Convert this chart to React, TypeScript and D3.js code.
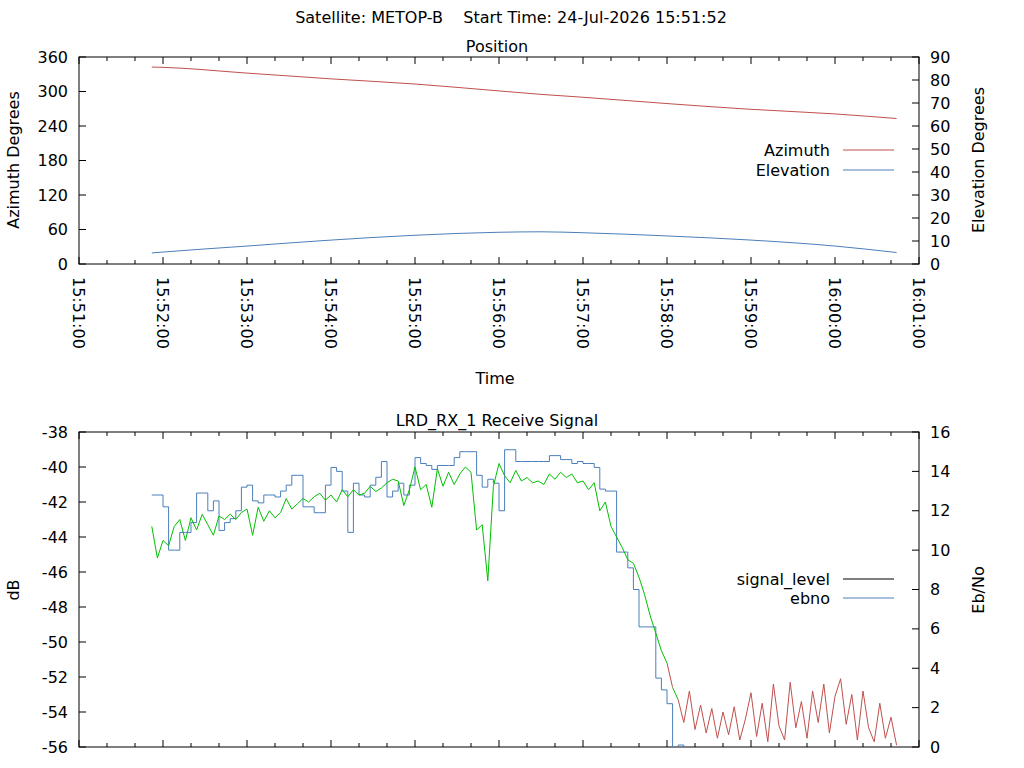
import React from 'react';
import * as d3 from 'd3';

// position samples: seconds after 15:51:00
const posTimes = [52, 60, 120, 180, 240, 300, 330, 360, 420, 480, 540, 584];
const azimuth = [342.5, 342, 332, 322, 313, 301, 295, 290, 279, 269, 261, 253];
const elevation = [4.8, 5.2, 7.8, 10.4, 12.5, 13.8, 14.0, 13.6, 12.2, 10.4, 7.8, 5.0];

// receive signal samples every 4 s starting 15:51:52
const sigStart = 52;
const sigStep = 4;
const signalLevel = [
  -43.4, -45.2, -44.2, -44.5, -43.4, -43.0, -44.2, -42.9, -43.6, -42.7,
  -43.3, -43.9, -42.8, -43.0, -42.7, -43.0, -42.6, -42.4, -43.9, -42.3,
  -43.1, -42.5, -42.9, -42.6, -41.8, -42.4, -42.1, -41.8, -42.0, -41.7,
  -41.5, -41.9, -41.6, -42.0, -41.3, -41.7, -41.3, -41.6, -41.5, -41.1,
  -41.4, -41.2, -40.9, -40.7, -40.8, -42.2, -41.3, -40.0, -41.3, -41.0,
  -42.3, -40.1, -41.1, -40.3, -41.0, -40.4, -40.0, -40.3, -43.6, -43.3,
  -46.5, -41.1, -39.8, -40.5, -40.9, -40.2, -40.8, -40.6, -40.9, -40.8,
  -41.0, -40.4, -40.7, -40.3, -40.6, -40.4, -40.9, -40.8, -41.3, -40.9,
  -42.5, -42.0, -43.4, -44.0, -44.6, -45.3, -45.5, -46.3, -47.3, -48.5,
  -49.5, -50.5, -51.2, -52.6, -53.3, -54.6, -52.8, -55.0, -53.6, -55.2,
  -53.8, -55.5, -54.0, -55.3, -53.7, -55.6, -54.4, -52.9, -55.4, -53.5,
  -55.7, -52.4, -54.8, -55.6, -52.3, -54.9, -53.4, -55.5, -52.8, -54.6,
  -52.4, -55.2, -53.1, -52.1, -54.7, -53.0, -55.6, -52.8, -54.9, -55.7,
  -53.5, -55.5, -54.3, -55.9,
];
const ebno = [
  12.8, 12.8, 12.2, 10.0, 10.0, 10.9, 10.9, 11.4, 12.9, 12.9,
  12.0, 12.5, 11.0, 11.4, 11.6, 12.0, 13.2, 13.3, 12.5, 12.4,
  12.8, 12.8, 12.7, 13.0, 13.3, 13.8, 13.8, 12.2, 12.2, 11.9,
  11.9, 13.3, 14.2, 14.0, 13.0, 10.9, 13.4, 12.8, 12.7, 13.3,
  13.7, 14.5, 12.7, 13.0, 13.4, 12.8, 13.3, 14.7, 14.4, 14.3,
  14.1, 14.3, 14.3, 14.3, 14.7, 15.0, 15.0, 15.0, 13.8, 13.2,
  13.6, 13.4, 12.0, 15.1, 15.1, 14.5, 14.5, 14.5, 14.5, 14.5,
  14.5, 14.8, 14.8, 14.6, 14.6, 14.4, 14.5, 14.4, 14.4, 14.2,
  13.1, 13.0, 13.0, 9.9, 9.9, 9.1, 8.0, 6.1, 6.1, 6.1,
  3.5, 2.9, 2.2, -1, 0.1, -1, -1, -1, -1, -1,
  -1, -1, -1, -1, -1, -1, -1, -1, -1, -1,
  -1, -1, -1, -1, -1, -1, -1, -1, -1, -1,
  -1, -1, -1, -1, -1, -1, -1, -1, -1, -1,
  -1, -1, -1, -1,
];

const azTicks = [0, 60, 120, 180, 240, 300, 360];
const elTicks = [0, 10, 20, 30, 40, 50, 60, 70, 80, 90];
const dbTicks = [-56, -54, -52, -50, -48, -46, -44, -42, -40, -38];
const ebTicks = [0, 2, 4, 6, 8, 10, 12, 14, 16];
const timeLabels = ['15:51:00', '15:52:00', '15:53:00', '15:54:00', '15:55:00', '15:56:00', '15:57:00', '15:58:00', '15:59:00', '16:00:00', '16:01:00'];

const RED = '#c0504d';
const BLUE = '#4a7ebb';
const GREEN = '#00c000';
const FONT = 'DejaVu Sans, sans-serif';
const FS = 16;

const L = 79, R = 919;
const top1 = 57, bot1 = 264, top2 = 432, bot2 = 747;

const x = d3.scaleLinear().domain([0, 600]).range([L, R]);
const majorT = d3.range(0, 601, 60);
const minorT = d3.range(0, 601, 20).filter((t) => t % 60 !== 0);

function XTicks({ y0, y1 }: { y0: number; y1: number }) {
  return (
    <g stroke="#000" strokeWidth={1}>
      {majorT.map((t) => (
        <g key={'M' + t}>
          <line x1={x(t)} x2={x(t)} y1={y1} y2={y1 - 7} />
          <line x1={x(t)} x2={x(t)} y1={y0} y2={y0 + 7} />
        </g>
      ))}
      {minorT.map((t) => (
        <g key={'m' + t}>
          <line x1={x(t)} x2={x(t)} y1={y1} y2={y1 - 4} />
          <line x1={x(t)} x2={x(t)} y1={y0} y2={y0 + 4} />
        </g>
      ))}
    </g>
  );
}

function YAxis({ scale, ticks, side }: { scale: d3.ScaleLinear<number, number>; ticks: number[]; side: 'l' | 'r' }) {
  const xp = side === 'l' ? L : R;
  const d = side === 'l' ? 7 : -7;
  return (
    <g>
      {ticks.map((v) => (
        <g key={v}>
          <line x1={xp} x2={xp + d} y1={scale(v)} y2={scale(v)} stroke="#000" />
          <text
            x={side === 'l' ? xp - 11 : xp + 11}
            y={scale(v)}
            dy="0.35em"
            textAnchor={side === 'l' ? 'end' : 'start'}
            fontSize={FS}
            fontFamily={FONT}
          >
            {v}
          </text>
        </g>
      ))}
    </g>
  );
}

export default function App() {
  const yAz = d3.scaleLinear().domain([0, 360]).range([bot1, top1]);
  const yEl = d3.scaleLinear().domain([0, 90]).range([bot1, top1]);
  const yDb = d3.scaleLinear().domain([-56, -38]).range([bot2, top2]);
  const yEb = d3.scaleLinear().domain([0, 16]).range([bot2, top2]);

  const azLine = d3.line<number>().x((_, i) => x(posTimes[i])).y((d) => yAz(d)).curve(d3.curveMonotoneX);
  const elLine = d3.line<number>().x((_, i) => x(posTimes[i])).y((d) => yEl(d)).curve(d3.curveMonotoneX);

  const st = (i: number) => sigStart + i * sigStep;
  const ebLine = d3.line<number>().x((_, i) => x(st(i))).y((d) => yEb(d)).curve(d3.curveStepAfter);

  // signal segments coloured by lock (ebno above zero)
  const segs = signalLevel.slice(1).map((v, k) => ({
    x1: x(st(k)), y1: yDb(signalLevel[k]), x2: x(st(k + 1)), y2: yDb(v),
    c: ebno[k + 1] > 0 ? GREEN : RED,
  }));

  return (
    <svg width={1024} height={768} style={{ position: 'absolute', left: 0, top: 0, background: '#fff' }}>
      <defs>
        <clipPath id="c2"><rect x={L} y={top2} width={R - L} height={bot2 - top2} /></clipPath>
      </defs>
      <text x={511} y={23} textAnchor="middle" fontSize={FS} fontFamily={FONT} style={{ whiteSpace: 'pre' }}>
        {'Satellite: METOP-B    Start Time: 24-Jul-2026 15:51:52'}
      </text>

      {/* Position panel */}
      <text x={497} y={52} textAnchor="middle" fontSize={FS} fontFamily={FONT}>Position</text>
      <rect x={L} y={top1} width={R - L} height={bot1 - top1} fill="none" stroke="#000" />
      <XTicks y0={top1} y1={bot1} />
      <YAxis scale={yAz} ticks={azTicks} side="l" />
      <YAxis scale={yEl} ticks={elTicks} side="r" />
      {timeLabels.map((s, i) => (
        <text key={s} transform={`translate(${x(majorT[i]) - 6},277) rotate(90)`} fontSize={FS} fontFamily={FONT}>{s}</text>
      ))}
      <text transform={`translate(19,160) rotate(-90)`} textAnchor="middle" fontSize={FS} fontFamily={FONT}>Azimuth Degrees</text>
      <text transform={`translate(984,160) rotate(-90)`} textAnchor="middle" fontSize={FS} fontFamily={FONT}>Elevation Degrees</text>
      <text x={495} y={384} textAnchor="middle" fontSize={FS} fontFamily={FONT}>Time</text>
      <path d={azLine(azimuth) || ''} fill="none" stroke={RED} strokeWidth={1} />
      <path d={elLine(elevation) || ''} fill="none" stroke={BLUE} strokeWidth={1} />
      <text x={830} y={156} textAnchor="end" fontSize={FS} fontFamily={FONT}>Azimuth</text>
      <line x1={843} x2={894} y1={150} y2={150} stroke={RED} />
      <text x={830} y={176} textAnchor="end" fontSize={FS} fontFamily={FONT}>Elevation</text>
      <line x1={843} x2={894} y1={170} y2={170} stroke={BLUE} />

      {/* Signal panel */}
      <text x={497} y={426} textAnchor="middle" fontSize={FS} fontFamily={FONT}>LRD_RX_1 Receive Signal</text>
      <rect x={L} y={top2} width={R - L} height={bot2 - top2} fill="none" stroke="#000" />
      <XTicks y0={top2} y1={bot2} />
      <YAxis scale={yDb} ticks={dbTicks} side="l" />
      <YAxis scale={yEb} ticks={ebTicks} side="r" />
      <text transform={`translate(19,590) rotate(-90)`} textAnchor="middle" fontSize={FS} fontFamily={FONT}>dB</text>
      <text transform={`translate(984,590) rotate(-90)`} textAnchor="middle" fontSize={FS} fontFamily={FONT}>Eb/No</text>
      <g clipPath="url(#c2)">
        <path d={ebLine(ebno) || ''} fill="none" stroke={BLUE} strokeWidth={1} />
        {segs.map((s, i) => (
          <line key={i} x1={s.x1} y1={s.y1} x2={s.x2} y2={s.y2} stroke={s.c} strokeWidth={1} />
        ))}
      </g>
      <text x={830} y={585} textAnchor="end" fontSize={FS} fontFamily={FONT}>signal_level</text>
      <line x1={843} x2={894} y1={579} y2={579} stroke="#000" />
      <text x={830} y={604} textAnchor="end" fontSize={FS} fontFamily={FONT}>ebno</text>
      <line x1={843} x2={894} y1={598} y2={598} stroke={BLUE} />
    </svg>
  );
}
